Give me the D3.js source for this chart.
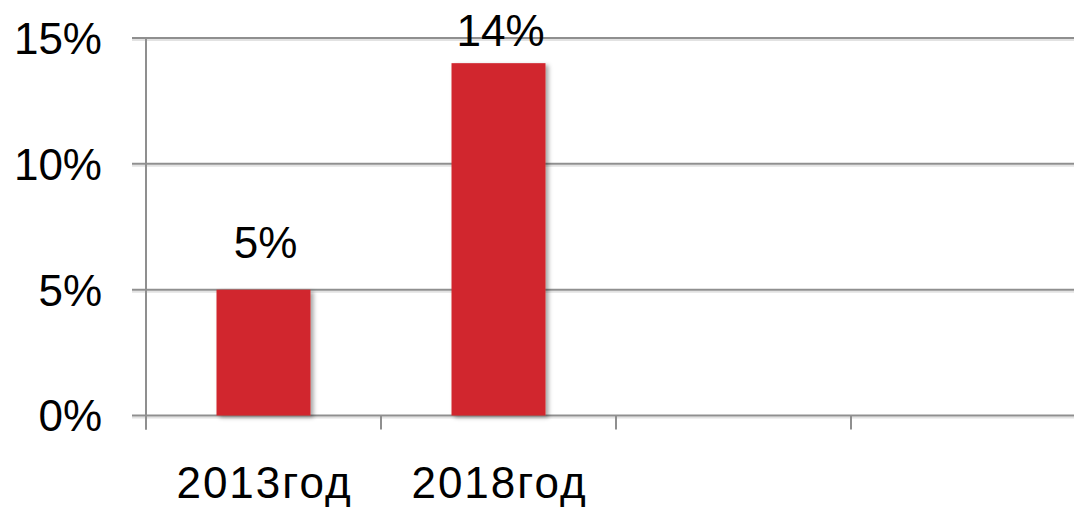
<!DOCTYPE html>
<html>
<head>
<meta charset="utf-8">
<script src="https://cdn.jsdelivr.net/npm/d3@7"></script>
<style>
  html, body { margin: 0; padding: 0; background: #fff; }
  svg { display: block; font-family: "Liberation Sans", Arial, Helvetica, sans-serif; }
</style>
</head>
<body>
<svg id="chart" width="1074" height="507"></svg>
<script>
// Category slots (the last two are empty slots on the axis)
const categories = ["2013год", "2018год", "", ""];
const values = [0.05, 0.14, null, null];
const yTicks = [0, 0.05, 0.10, 0.15];

(function () {
  const svg = d3.select("#chart");
  const plotLeft = 146, plotRight = 1086, plotTop = 38, plotBottom = 415.5;
  const gridColor = "#8f8f8f";
  const barColor = "#d1282e";
  const fontSize = 44;

  const x = d3.scaleBand()
    .domain(d3.range(categories.length))
    .range([plotLeft, plotRight])
    .padding(0);

  const y = d3.scaleLinear()
    .domain([0, 0.15])
    .range([plotBottom, plotTop]);

  const defs = svg.append("defs");
  defs.append("filter").attr("id", "barShadow")
    .attr("x", "-10%").attr("y", "-10%").attr("width", "130%").attr("height", "130%")
    .append("feDropShadow")
    .attr("dx", 3).attr("dy", 2).attr("stdDeviation", 2)
    .attr("flood-color", "#000").attr("flood-opacity", 0.35);

  // Soft shadow under each gridline
  svg.append("g").selectAll("line")
    .data(yTicks)
    .join("line")
    .attr("x1", plotLeft - 14).attr("x2", plotRight)
    .attr("y1", d => y(d) + 2).attr("y2", d => y(d) + 2)
    .attr("stroke", "#e2e2e2").attr("stroke-width", 2);

  // Horizontal gridlines with short ticks on the left
  svg.append("g").selectAll("line")
    .data(yTicks)
    .join("line")
    .attr("x1", plotLeft - 14).attr("x2", plotRight)
    .attr("y1", d => y(d)).attr("y2", d => y(d))
    .attr("stroke", gridColor).attr("stroke-width", 2);

  // Vertical value axis line
  svg.append("line")
    .attr("x1", plotLeft).attr("x2", plotLeft)
    .attr("y1", y(0.15)).attr("y2", y(0) + 14)
    .attr("stroke", gridColor).attr("stroke-width", 2);

  // Category boundary ticks
  const bounds = d3.range(categories.length + 1).map(i => plotLeft + i * x.step());
  svg.append("g").selectAll("line")
    .data(bounds)
    .join("line")
    .attr("x1", d => d).attr("x2", d => d)
    .attr("y1", y(0)).attr("y2", y(0) + 14)
    .attr("stroke", gridColor).attr("stroke-width", 2);

  // Y tick labels
  svg.append("g").selectAll("text")
    .data(yTicks)
    .join("text")
    .attr("x", 102)
    .attr("y", d => y(d))
    .attr("dy", "0.36em")
    .attr("text-anchor", "end")
    .attr("font-size", fontSize)
    .attr("fill", "#000")
    .text(d3.format(".0%"));

  // Bars
  const barData = categories.map((c, i) => ({ i, c, v: values[i] })).filter(d => d.v != null);
  const barW = x.bandwidth() * 0.4;
  svg.append("g").selectAll("rect")
    .data(barData)
    .join("rect")
    .attr("x", d => x(d.i) + (x.bandwidth() - barW) / 2)
    .attr("width", barW)
    .attr("y", d => y(d.v))
    .attr("height", d => y(0) - y(d.v))
    .attr("fill", barColor)
    .attr("filter", "url(#barShadow)");

  // Value labels above bars (kept inside the chart area)
  svg.append("g").selectAll("text")
    .data(barData)
    .join("text")
    .attr("x", d => x(d.i) + x.bandwidth() / 2 + 2)
    .attr("y", d => Math.max(y(d.v) - 32, 46))
    .attr("text-anchor", "middle")
    .attr("font-size", fontSize)
    .attr("fill", "#000")
    .text(d => d3.format(".0%")(d.v));

  // Category labels
  svg.append("g").selectAll("text")
    .data(categories.map((c, i) => ({ c, i })))
    .join("text")
    .attr("x", d => x(d.i) + x.bandwidth() / 2 + 1)
    .attr("y", 498)
    .attr("text-anchor", "middle")
    .attr("font-size", fontSize)
    .attr("letter-spacing", 2)
    .attr("fill", "#000")
    .text(d => d.c);
})();
</script>
</body>
</html>
